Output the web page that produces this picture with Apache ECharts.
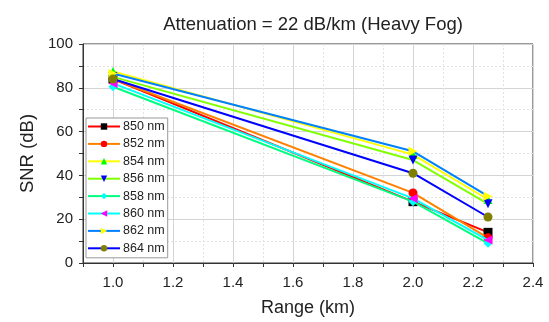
<!DOCTYPE html>
<html><head><meta charset="utf-8">
<script src="https://cdn.jsdelivr.net/npm/echarts@6/dist/echarts.min.js"></script>
<style>html,body{margin:0;padding:0;background:#fff}#c{width:549px;height:322px}</style>
</head><body><div id="c"></div>
<script>
const ranges = [1.0, 2.0, 2.25];
const names = ['850 nm','852 nm','854 nm','856 nm','858 nm','860 nm','862 nm','864 nm'];
const snr850 = [84, 28, 14];
const snr852 = [84, 32, 11.5];
const snr854 = [87.5, 49.5, 29];
const snr856 = [85, 47, 27];
const snr858 = [80.5, 28, 9];
const snr860 = [82, 29.5, 10.5];
const snr862 = [86.5, 51, 30.5];
const snr864 = [84, 41, 21];
const values = [snr850, snr852, snr854, snr856, snr858, snr860, snr862, snr864];
const lineColors = ['#ff0000','#ff8000','#ffff00','#80ff00','#00ff80','#00ffff','#0080ff','#0000ff'];
const markColors = ['#000000','#ff0000','#00ff00','#0000ff','#00ffff','#ff00ff','#ffff00','#808000'];
const symbols = ['rect','circle','triangle','triangle','diamond','triangle','triangle','circle'];
const rotates = [0,0,0,180,0,90,-90,0];

const chart = echarts.init(document.getElementById('c'));
const txt = '#222';
const ff = 'Arial, Liberation Sans';
const series = names.map((n,i)=>({
  name:n, type:'line', xAxisIndex:0, yAxisIndex:0,
  data: ranges.map((x,j)=>[x, values[i][j]]),
  symbol: symbols[i], symbolRotate: rotates[i], symbolSize: 9,
  lineStyle:{color:lineColors[i], width:2},
  itemStyle:{color:markColors[i], borderWidth:0},
  color: lineColors[i],
  z: 3+i
}));
chart.setOption({
  animation:false,
  title:{text:'Attenuation = 22 dB/km (Heavy Fog)', left:308, top:10, textAlign:'center',
    textStyle:{fontFamily:ff, fontSize:18.5, fontWeight:'normal', color:txt}},
  grid:{left:83, right:16, top:44, bottom:56, show:true, borderColor:'#333', borderWidth:1, backgroundColor:'transparent'},
  legend:{orient:'vertical', left:86, top:118, itemWidth:32, itemHeight:8, itemGap:4.4,
    borderColor:'#999', borderWidth:1, padding:[2,3,3,1], backgroundColor:'#fff',
    textStyle:{fontFamily:ff, fontSize:12.5, color:txt, padding:[0,0,0,-2]},
    data:names.map((n,i)=>({name:n, itemStyle:{color:markColors[i]}, lineStyle:{color:lineColors[i], width:2}}))},
  xAxis:[
    {type:'value', min:0.9, max:2.4, interval:0.1, position:'bottom',
     name:'Range (km)', nameLocation:'middle', nameGap:36,
     nameTextStyle:{fontFamily:ff, fontSize:18, color:txt},
     axisLine:{lineStyle:{color:'#333', width:1}},
     axisTick:{show:true, inside:false, length:4, lineStyle:{color:'#333'}},
     axisLabel:{fontFamily:ff, fontSize:15, color:txt, margin:12,
       formatter:v=>{const k=Math.round(v*10); return k%2===0? (k/10).toFixed(1):'';}},
     splitLine:{show:true, lineStyle:{color:['rgba(0,0,0,0)','#d4d4d4'], width:1}}},
    {type:'value', min:0.9, max:2.4, interval:0.1, position:'bottom',
     axisLine:{show:false}, axisTick:{show:false}, axisLabel:{show:false},
     splitLine:{show:true, lineStyle:{color:['#e2e2e2','rgba(0,0,0,0)'], type:[2,2], width:1}}}
  ],
  yAxis:[
    {type:'value', min:0, max:100, interval:10,
     name:'SNR (dB)', nameLocation:'middle', nameGap:41, nameRotate:90,
     nameTextStyle:{fontFamily:ff, fontSize:18.5, color:txt},
     axisLine:{show:true, lineStyle:{color:'#333', width:1}},
     axisTick:{show:true, length:4, lineStyle:{color:'#333'}},
     axisLabel:{fontFamily:ff, fontSize:15, color:txt, margin:10,
       formatter:v=>(Math.round(v)%20===0? String(Math.round(v)):'')},
     splitLine:{show:true, lineStyle:{color:['#d4d4d4','rgba(0,0,0,0)'], width:1}}},
    {type:'value', min:0, max:100, interval:10, position:'left',
     axisLine:{show:false}, axisTick:{show:false}, axisLabel:{show:false},
     splitLine:{show:true, lineStyle:{color:['rgba(0,0,0,0)','#e2e2e2'], type:[2,2], width:1}}}
  ],
  series: series
});
</script></body></html>
